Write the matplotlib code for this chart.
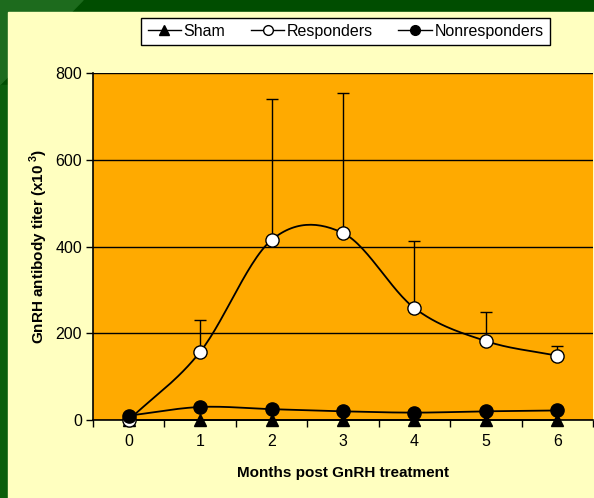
import matplotlib
matplotlib.use("Agg")
import matplotlib.pyplot as plt
import numpy as np
from matplotlib.patches import Rectangle, Polygon

plt.rcParams['font.family'] = ['Liberation Sans', 'DejaVu Sans']
plt.rcParams['mathtext.fontset'] = 'custom'
plt.rcParams['mathtext.rm'] = 'Liberation Sans'
plt.rcParams['mathtext.bf'] = 'Liberation Sans:bold'

months = [0, 1, 2, 3, 4, 5, 6]
sham = [0, 0, 0, 0, 0, 0, 0]
responders = [0, 157, 415, 431, 258, 182, 148]
responders_upper = [0, 230, 740, 754, 413, 249, 171]
nonresponders = [10, 30, 25, 20, 17, 20, 22]


def smooth(x, y, n=30):
    """Catmull-Rom curve through the points, like Excel's smoothed line"""
    x = np.asarray(x, float)
    y = np.asarray(y, float)
    px = np.concatenate([[2 * x[0] - x[1]], x, [2 * x[-1] - x[-2]]])
    py = np.concatenate([[2 * y[0] - y[1]], y, [2 * y[-1] - y[-2]]])
    t = np.linspace(0, 1, n)
    xs, ys = [], []
    for i in range(1, len(px) - 2):
        for p, out in ((px, xs), (py, ys)):
            p0, p1, p2, p3 = p[i - 1], p[i], p[i + 1], p[i + 2]
            out.extend(0.5 * (2 * p1 + (-p0 + p2) * t
                              + (2 * p0 - 5 * p1 + 4 * p2 - p3) * t ** 2
                              + (-p0 + 3 * p1 - 3 * p2 + p3) * t ** 3))
    return np.array(xs), np.array(ys)


fig = plt.figure(figsize=(5.94, 4.98), dpi=100, facecolor='#004d00')
# slide background: green frame and pale yellow panel
fig.patches.append(Polygon([[0, 1], [0.14, 1], [0, 0.83]], closed=True,
                           transform=fig.transFigure, color='#1d6b1d', zorder=-3))
fig.patches.append(Rectangle((0, 0), 0.0135, 0.83, transform=fig.transFigure,
                             color='#0b5e0b', zorder=-3))
fig.patches.append(Rectangle((0.0135, 0), 1, 1 - 12 / 498, transform=fig.transFigure,
                             color='#ffffc0', zorder=-2))

ax = fig.add_axes([93 / 594, 1 - 420 / 498, 500 / 594, 347 / 498])
ax.set_facecolor('#ffaa00')
ax.set_xlim(-0.5, 6.5)
ax.set_ylim(0, 800)
ax.set_yticks([0, 200, 400, 600, 800])
ax.set_xticks(months)
ax.set_xticks(np.arange(-0.5, 6.6, 1), minor=True)
ax.tick_params(axis='x', which='major', length=0, pad=10, labelsize=11.5)
ax.tick_params(axis='x', which='minor', length=5, direction='out', width=1)
ax.tick_params(axis='y', length=5, direction='out', width=1, labelsize=11.5, pad=3)
for s in ('top', 'right'):
    ax.spines[s].set_visible(False)
for s in ('left', 'bottom'):
    ax.spines[s].set_color('black')
    ax.spines[s].set_linewidth(1.2)
ax.grid(True, axis='y', color='black', lw=1)
ax.set_axisbelow(True)

# error bars (upper only)
up = np.array(responders_upper) - np.array(responders)
ax.errorbar(months[1:], responders[1:], yerr=[np.zeros(6), up[1:]], fmt='none',
            ecolor='black', elinewidth=1, capsize=4, capthick=1, zorder=3)

sx, sy = smooth(months, responders)
ax.plot(sx, sy, color='black', lw=1.3, zorder=4)
nx, ny = smooth(months, nonresponders)
ax.plot(nx, ny, color='black', lw=1.3, zorder=4)
ax.plot(months, sham, color='black', lw=1.3, zorder=4, clip_on=False)

ax.plot(months, sham, ls='none', marker='^', ms=9, color='black', zorder=5, clip_on=False)
ax.plot(months, responders, ls='none', marker='o', ms=9.5, mfc='white', mec='black',
        mew=1, zorder=6, clip_on=False)
ax.plot(months, nonresponders, ls='none', marker='o', ms=9.5, color='black',
        zorder=7, clip_on=False)

# legend handles
h1, = ax.plot([], [], color='black', lw=1, marker='^', ms=7)
h2, = ax.plot([], [], color='black', lw=1, marker='o', ms=7, mfc='white')
h3, = ax.plot([], [], color='black', lw=1, marker='o', ms=7)
leg = fig.legend([h1, h2, h3], ['Sham', 'Responders', 'Nonresponders'],
                 loc='center', bbox_to_anchor=(345.5 / 594, 1 - 31.5 / 498), ncol=3,
                 fontsize=11.5, frameon=True, fancybox=False, edgecolor='black',
                 framealpha=1, handlelength=2.1, handletextpad=0.15,
                 columnspacing=1.6, borderpad=0.4)
leg.get_frame().set_linewidth(1)

ax.set_xlabel('Months post GnRH treatment', fontsize=11, fontweight='bold', labelpad=12)
ax.set_ylabel(r'GnRH antibody titer (x10$^{\mathbf{\ 3}}$)', fontsize=11,
              fontweight='bold', labelpad=4)

fig.savefig('out.png', dpi=100, facecolor=fig.get_facecolor())
